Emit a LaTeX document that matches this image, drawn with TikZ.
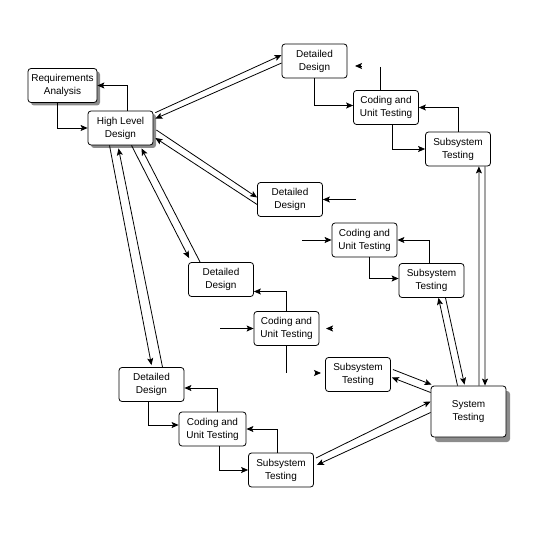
\documentclass[tikz,border=0pt]{standalone}
\usepackage{fontspec}
\setmainfont{Liberation Sans}
\usetikzlibrary{arrows.meta}
\usetikzlibrary{calc}
\usetikzlibrary{shadows}
\usetikzlibrary{positioning}

\begin{document}
\begin{tikzpicture}[
  x=1pt,y=-1pt,
  font=\fontsize{10}{13}\selectfont,
  box/.style={draw,line width=.8pt,rounded corners=3pt,fill=white,
    minimum width=65pt,minimum height=34pt,inner sep=1pt},
  shadowbox/.style={box,drop shadow={shadow xshift=3pt,shadow yshift=-3pt,
    fill=black!45,opacity=1}},
  bigbox/.style={box,minimum width=75pt,minimum height=51pt,
    drop shadow={shadow xshift=4pt,shadow yshift=-5pt,fill=black!45,opacity=1}},
  line/.style={line width=.8pt},
  to/.style={->,>={Stealth[length=7pt,width=6pt,inset=1.5pt]},line width=.8pt},
  every node/.style={align=center}]

  \useasboundingbox (0,0) rectangle (540,540);

  % Position the nodes
  \node[shadowbox,minimum width=69pt] (req) at (62.5,85.5) {Requirements\\Analysis};
  \node[shadowbox] (hld) at (120.5,128) {High Level\\Design};

  \node[box] (dd1) at (314.5,61) {Detailed\\Design};
  \node[box] (cut1) at (386,107.5) {Coding and\\Unit Testing};
  \node[box] (sst1) at (458,149) {Subsystem\\Testing};

  \node[box] (dd2) at (290,199.5) {Detailed\\Design};
  \node[box] (cut2) at (364.5,240) {Coding and\\Unit Testing};
  \node[box] (sst2) at (431.5,280.5) {Subsystem\\Testing};

  \node[box] (dd3) at (221,279.5) {Detailed\\Design};
  \node[box] (cut3) at (286.5,328.5) {Coding and\\Unit Testing};
  \node[box] (sst3) at (358,374.5) {Subsystem\\Testing};

  \node[box] (dd4) at (151.5,384.5) {Detailed\\Design};
  \node[box,minimum width=67pt] (cut4) at (212.5,429) {Coding and\\Unit Testing};
  \node[box] (sst4) at (281,470) {Subsystem\\Testing};

  \node[bigbox] (st) at (468.5,411.5) {System\\Testing};

  % Free ends of the broken connectors
  \coordinate (cut1top) at (380,67);
  \coordinate (dd1tip) at (355,66);
  \coordinate (dd2in) at (356,199.5);
  \coordinate (cut2in) at (302,240);
  \coordinate (cut3in) at (220,328.5);
  \coordinate (cut3tip) at (326,328.5);
  \coordinate (cut3bot) at (286.5,373);
  \coordinate (sst3tip) at (321,373);

  % Draw the arrows between the nodes
  \draw[to] ($(hld.north)+(6.5,0)$) |- (req.east);
  \draw[to] ($(req.south)+(-5.5,0)$) |- (hld.west);

  \draw[to] ($(hld.north east)+(2,2)$) -- ($(dd1.west)+(0,-6)$);
  \draw[to] ($(dd1.west)+(0,2)$) -- ($(hld.north east)+(2,8)$);
  \draw[to] ($(hld.east)+(3,2)$) -- ($(dd2.west)+(0,-2)$);
  \draw[to] ($(dd2.west)+(0,5)$) -- ($(hld.east)+(2,10)$);
  \draw[to] ($(hld.south)+(11,0)$) -- ($(dd3.north west)+(1,-4)$);
  \draw[to] ($(dd3.north west)+(12,0)$) -- ($(hld.south)+(21,3)$);
  \draw[to] ($(hld.south)+(-11,0)$) -- ($(dd4.north)+(0,-2)$);
  \draw[to] ($(dd4.north)+(11,0)$) -- ($(hld.south)+(-2,3)$);

  \draw[to] (dd1.south) |- ($(cut1.west)+(0,-2)$);
  \draw[line] (cut1top) -- (cut1top |- cut1.north);
  \draw[to] ($(dd1tip)+(6.5,0)$) -- (dd1tip);
  \draw[to] ($(cut1.south)+(6,0)$) |- (sst1.west);
  \draw[to] (sst1.north) |- (cut1.east);
  \draw[to] ($(st.north)+(10.5,0)$) -- ($(sst1.south east)+(-12,0)$);
  \draw[to] ($(sst1.south east)+(-6,0)$) -- ($(st.north)+(16.5,0)$);

  \draw[to] (dd2in) -- (dd2.east);
  \draw[to] (cut2in) -- (cut2.west);
  \draw[to] ($(cut2.south)+(4.5,0)$) |- ($(sst2.west)+(0,-2)$);
  \draw[to] ($(sst2.north)+(-2.5,0)$) |- (cut2.east);
  \draw[to] ($(sst2.south)+(14,0)$) -- ($(st.north)+(-4,-1)$);
  \draw[to] ($(st.north)+(-11,0)$) -- ($(sst2.south)+(7,0)$);

  \draw[to] (cut3.north) |- ($(dd3.east)+(0,12)$);
  \draw[to] (cut3in) -- (cut3.west);
  \draw[to] ($(cut3tip)+(6.5,0)$) -- (cut3tip);
  \draw[line] (cut3.south) -- (cut3bot);
  \draw[to] ($(sst3tip)+(-6.5,0)$) -- (sst3tip);
  \draw[to] ($(sst3.east)+(2,-5)$) -- ($(st.north west)+(1,-1)$);
  \draw[to] ($(st.west)+(0,-19)$) -- ($(sst3.east)+(1,3)$);

  \draw[to] ($(dd4.south)+(-3.5,0)$) |- ($(cut4.west)+(0,-4)$);
  \draw[to] ($(cut4.north)+(4.5,0)$) |- ($(dd4.east)+(0,3.5)$);
  \draw[to] ($(cut4.south)+(6.5,0)$) |- (sst4.west);
  \draw[to] ($(sst4.north)+(-4,0)$) |- (cut4.east);
  \draw[to] ($(sst4.east)+(2,-12)$) -- ($(st.west)+(0,-10)$);
  \draw[to] ($(st.west)+(0,1)$) -- ($(sst4.east)+(3,-5)$);
\end{tikzpicture}
\end{document}
